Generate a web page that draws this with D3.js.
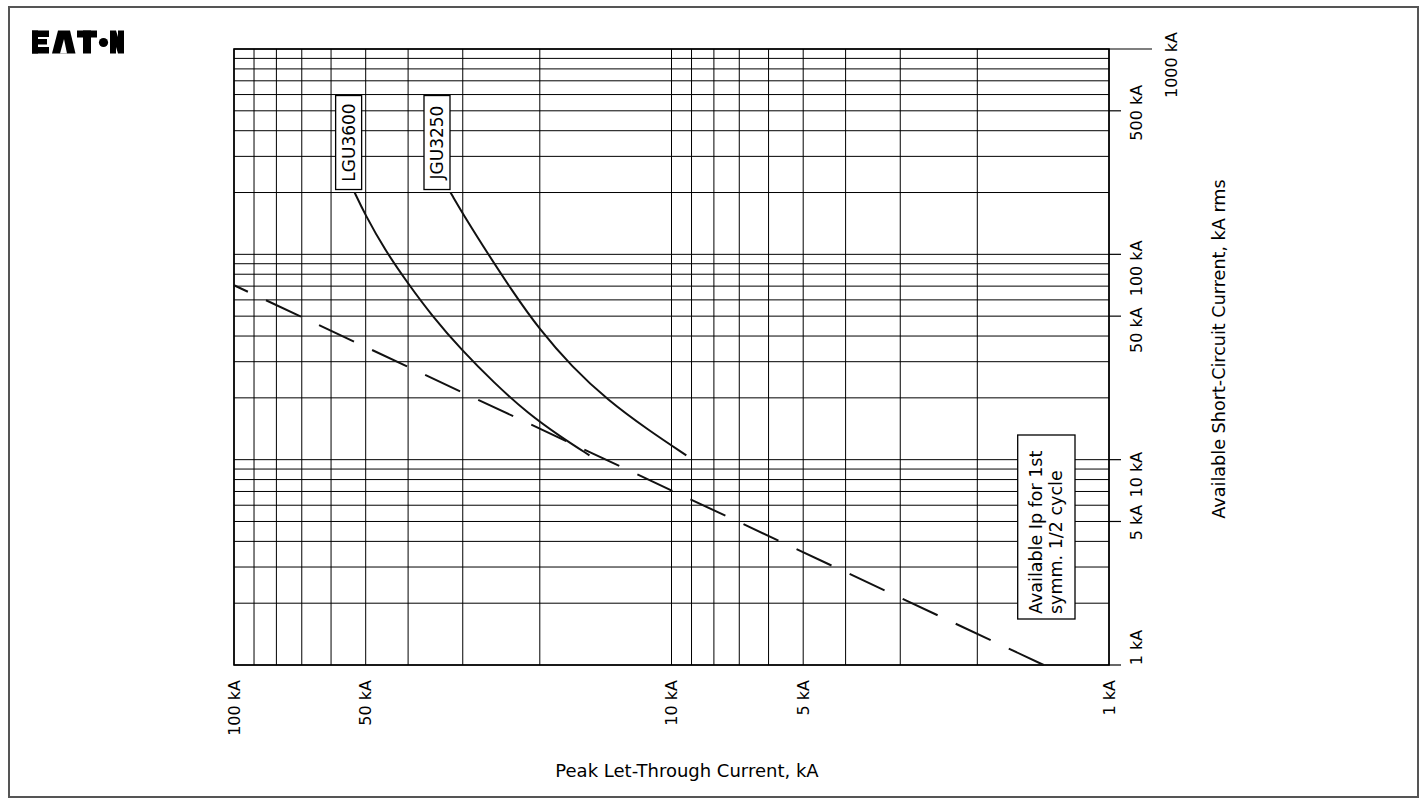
<!DOCTYPE html>
<html>
<head>
<meta charset="utf-8">
<title>Peak Let-Through Current</title>
<script src="https://cdn.jsdelivr.net/npm/d3@7"></script>
<style>
  html, body { margin: 0; padding: 0; background: #fff; }
  svg { display: block; font-family: "DejaVu Sans", Verdana, sans-serif; }
</style>
</head>
<body>
<svg id="chart" width="1426" height="803"></svg>
<script>
// ---- Data -------------------------------------------------------------
// Peak let-through current (kA) axis labels
const ipTickValues = [100, 50, 10, 5, 1];
const ipTickLabels = ["100 kA", "50 kA", "10 kA", "5 kA", "1 kA"];

// Available short-circuit current (kA rms) axis labels
const iscTickValues = [1, 5, 10, 50, 100, 500, 1000];
const iscTickLabels = ["1 kA", "5 kA", "10 kA", "50 kA", "100 kA", "500 kA", "1000 kA"];

// Breaker let-through curves: available Isc (kA rms) vs peak Ip (kA)
const lgu3600Isc = [200, 158, 105, 72, 50.7, 34.2, 23.6, 16.8, 12.9, 10.5];
const lgu3600Ip  = [53, 50.3, 45.2, 40, 35.4, 30.2, 25.4, 21.3, 17.9, 15.4];

const jgu3250Isc = [200, 147, 101, 67, 42.8, 28.4, 19.5, 13.95, 10.5];
const jgu3250Ip  = [32, 29.4, 26.3, 23.2, 20, 16.9, 14, 11.3, 9.25];

// Available Ip for the first symmetrical half cycle
const availableIsc = [1, 70.7];
const availableIp  = [1.41, 100];

const curveNames = ["LGU3600", "JGU3250"];
const noteLines = ["Available Ip for 1st", "symm. 1/2 cycle"];

// ---- Layout -----------------------------------------------------------
const svg = d3.select("#chart");
const plot = { left: 234, right: 1109, top: 49, bottom: 665 };

const x = d3.scaleLog().domain([100, 1]).range([plot.left, plot.right]);
const y = d3.scaleLog().domain([1, 1000]).range([plot.bottom, plot.top]);

// page frame
svg.append("rect")
  .attr("x", 9).attr("y", 7)
  .attr("width", 1409).attr("height", 790)
  .attr("fill", "none").attr("stroke", "#555").attr("stroke-width", 2);

// ---- Logo -------------------------------------------------------------
const logo = svg.append("g").attr("fill", "#000");
// E
logo.append("rect").attr("x", 32).attr("y", 30.5).attr("width", 6).attr("height", 23);
logo.append("rect").attr("x", 32).attr("y", 30.5).attr("width", 17).attr("height", 6.5);
logo.append("rect").attr("x", 32).attr("y", 39).attr("width", 15).attr("height", 5.5);
logo.append("rect").attr("x", 32).attr("y", 47).attr("width", 17).attr("height", 6.5);
// A
logo.append("path").attr("d", "M58,30.5 L70,30.5 L75.5,53.5 L52,53.5 Z");
logo.append("path").attr("fill", "#fff").attr("d", "M60,53.5 L64,39 L67,53.5 Z");
// T
logo.append("rect").attr("x", 77).attr("y", 30.5).attr("width", 20).attr("height", 7);
logo.append("rect").attr("x", 83).attr("y", 30.5).attr("width", 8).attr("height", 23);
// dot
logo.append("circle").attr("cx", 103.5).attr("cy", 42.5).attr("r", 4.6);
// N
logo.append("path").attr("d",
  "M110,30.5 L116,30.5 L118,37 L118,30.5 L124,30.5 L124,53.5 L118,53.5 L116,47 L116,53.5 L110,53.5 Z");

// ---- Grid ---------------------------------------------------------------
const grid = svg.append("g").attr("stroke", "#000").attr("stroke-width", 1);

grid.selectAll("line.v")
  .data(x.ticks())
  .join("line")
  .attr("class", "v")
  .attr("x1", d => x(d)).attr("x2", d => x(d))
  .attr("y1", plot.top).attr("y2", plot.bottom);

grid.selectAll("line.h")
  .data(y.ticks())
  .join("line")
  .attr("class", "h")
  .attr("x1", plot.left).attr("x2", plot.right)
  .attr("y1", d => y(d)).attr("y2", d => y(d));

// plot frame
svg.append("rect")
  .attr("x", plot.left).attr("y", plot.top)
  .attr("width", plot.right - plot.left).attr("height", plot.bottom - plot.top)
  .attr("fill", "none").attr("stroke", "#000").attr("stroke-width", 1.6);

// ---- Right axis (Isc) ----------------------------------------------------
const rightAxis = svg.append("g");
rightAxis.selectAll("line")
  .data(iscTickValues)
  .join("line")
  .attr("x1", plot.right)
  .attr("x2", d => plot.right + (d === 1000 ? 43 : 12))
  .attr("y1", d => y(d)).attr("y2", d => y(d))
  .attr("stroke", "#000").attr("stroke-width", 1.2);

// vertical shift of each label relative to its tick
const iscLabelShift = { 1: -17.5, 5: 1, 10: 15, 50: 14, 100: 14, 500: 2, 1000: 16 };
rightAxis.selectAll("text")
  .data(iscTickValues)
  .join("text")
  .attr("transform", d => `translate(${d === 1000 ? 1177 : 1142},${y(d) + iscLabelShift[d]}) rotate(-90)`)
  .attr("text-anchor", "middle")
  .attr("font-size", 16)
  .attr("fill", "#000")
  .text((d, i) => iscTickLabels[i]);

// ---- Bottom axis (Ip) -----------------------------------------------------
svg.append("g").selectAll("text")
  .data(ipTickValues)
  .join("text")
  .attr("transform", d => `translate(${x(d) + 5.5},680) rotate(-90)`)
  .attr("text-anchor", "end")
  .attr("font-size", 16)
  .attr("fill", "#000")
  .text((d, i) => ipTickLabels[i]);

// axis titles
svg.append("text")
  .attr("x", 687).attr("y", 776.5)
  .attr("text-anchor", "middle")
  .attr("font-size", 18)
  .attr("fill", "#000")
  .text("Peak Let-Through Current, kA");

svg.append("text")
  .attr("transform", "translate(1225,349) rotate(-90)")
  .attr("text-anchor", "middle")
  .attr("font-size", 17.6)
  .attr("fill", "#000")
  .text("Available Short-Circuit Current, kA rms");

// ---- Curves ----------------------------------------------------------------
const toPoints = (isc, ip) => isc.map((v, i) => ({ isc: v, ip: ip[i] }));
const line = d3.line()
  .x(d => x(d.ip))
  .y(d => y(d.isc))
  .curve(d3.curveBasis);

const availablePts = toPoints(availableIsc, availableIp);
svg.append("path")
  .datum(availablePts)
  .attr("d", d3.line().x(d => x(d.ip)).y(d => y(d.isc)))
  .attr("fill", "none")
  .attr("stroke", "#111")
  .attr("stroke-width", 2)
  .attr("stroke-dasharray", "38.6 20");

const breakerCurves = [
  toPoints(lgu3600Isc, lgu3600Ip),
  toPoints(jgu3250Isc, jgu3250Ip)
];

svg.append("g").selectAll("path")
  .data(breakerCurves)
  .join("path")
  .attr("d", line)
  .attr("fill", "none")
  .attr("stroke", "#111")
  .attr("stroke-width", 2);

// curve name tags sitting above the start of each curve
const tagShift = [-6, -13.5];
const tagW = 26, tagH = 94;
const tags = svg.append("g").selectAll("g")
  .data(breakerCurves)
  .join("g")
  .attr("transform", (d, i) => {
    const cx = x(d[0].ip) + tagShift[i];
    const bottom = y(d[0].isc) - 3;
    return `translate(${cx},${bottom - tagH / 2})`;
  });

tags.append("rect")
  .attr("x", -tagW / 2).attr("y", -tagH / 2)
  .attr("width", tagW).attr("height", tagH)
  .attr("fill", "#fff").attr("stroke", "#000").attr("stroke-width", 1.3);

tags.append("text")
  .attr("transform", "translate(6.2,0) rotate(-90)")
  .attr("text-anchor", "middle")
  .attr("font-size", 17)
  .attr("fill", "#000")
  .text((d, i) => curveNames[i]);

// ---- Note box ---------------------------------------------------------------
const note = svg.append("g");
note.append("rect")
  .attr("x", 1017.7).attr("y", 435)
  .attr("width", 57.3).attr("height", 184)
  .attr("fill", "#fff").attr("stroke", "#000").attr("stroke-width", 1.3);

note.selectAll("text")
  .data(noteLines)
  .join("text")
  .attr("transform", (d, i) => `translate(${1041.7 + i * 19.8},614) rotate(-90)`)
  .attr("text-anchor", "start")
  .attr("font-size", 17.5)
  .attr("fill", "#000")
  .text(d => d);
</script>
</body>
</html>
